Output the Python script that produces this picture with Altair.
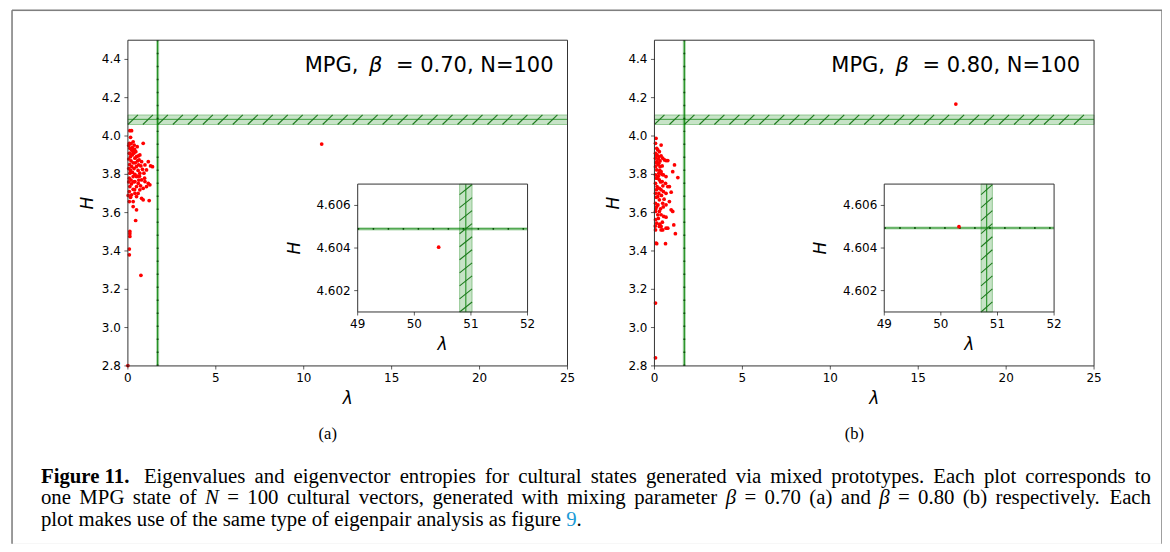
import altair as alt
import pandas as pd

# ---------------- data ----------------
a_points = [
    (0.11, 4.028), (0.21, 4.028), (0.15, 3.993), (0.08, 3.962), (0.30, 3.970), (0.36, 3.953),
    (0.11, 3.936), (0.21, 3.927), (0.08, 3.910), (0.15, 3.892), (0.25, 3.901), (0.34, 3.910),
    (0.40, 3.884), (0.49, 3.892), (0.59, 3.896), (0.68, 3.901), (0.64, 3.875), (0.78, 3.866),
    (0.87, 3.962), (0.53, 3.944), (0.45, 3.918), (0.61, 3.849), (0.74, 3.844), (0.83, 3.826),
    (0.97, 3.849), (1.16, 3.866), (1.29, 3.844), (1.40, 3.840), (1.06, 3.823), (0.91, 3.806),
    (0.68, 3.806), (0.49, 3.788), (0.30, 3.788), (0.11, 3.806), (0.08, 3.780), (0.40, 3.762),
    (0.59, 3.753), (0.78, 3.771), (0.97, 3.762), (1.16, 3.753), (1.25, 3.745), (1.06, 3.736),
    (0.87, 3.727), (0.68, 3.719), (0.49, 3.736), (0.30, 3.722), (0.11, 3.736), (0.08, 3.710),
    (0.21, 3.693), (0.40, 3.701), (0.49, 3.684), (0.78, 3.675), (0.87, 3.667), (1.21, 3.663),
    (0.08, 3.658), (0.30, 3.658), (0.30, 3.632), (0.49, 3.615), (0.44, 3.559), (0.11, 3.502),
    (0.11, 3.490), (0.11, 3.476), (0.08, 3.410), (0.08, 3.380), (0.74, 3.273), (0.00, 2.802),
    (11.02, 3.958),
    (0.05, 3.95), (0.18, 3.96), (0.25, 3.94), (0.12, 3.91), (0.28, 3.92), (0.38, 3.93),
    (0.05, 3.88), (0.18, 3.87), (0.30, 3.86), (0.42, 3.86), (0.55, 3.87), (0.10, 3.85),
    (0.22, 3.84), (0.35, 3.83), (0.48, 3.84), (0.58, 3.82), (0.15, 3.82), (0.26, 3.81),
    (0.40, 3.80), (0.55, 3.79), (0.05, 3.83), (0.18, 3.77), (0.33, 3.76), (0.62, 3.77),
    (0.72, 3.74), (0.20, 3.75), (0.05, 3.76), (0.38, 3.72), (0.58, 3.70), (0.15, 3.68),
    (0.02, 3.69), (0.66, 3.79), (0.95, 3.78),
]
b_points = [
    (0.09, 3.988), (0.38, 3.953), (0.06, 3.962), (0.13, 3.936), (0.19, 3.927), (0.28, 3.918),
    (0.06, 3.910), (0.15, 3.901), (0.25, 3.892), (0.38, 3.896), (0.47, 3.884), (0.57, 3.875),
    (0.66, 3.872), (0.76, 3.872), (1.14, 3.849), (1.04, 3.814), (0.06, 3.884), (0.13, 3.866),
    (0.25, 3.858), (0.32, 3.840), (0.44, 3.844), (0.06, 3.840), (0.13, 3.823), (0.25, 3.806),
    (0.38, 3.814), (0.51, 3.797), (0.66, 3.788), (0.06, 3.797), (0.15, 3.780), (0.28, 3.771),
    (0.44, 3.762), (0.63, 3.753), (0.76, 3.736), (0.85, 3.736), (0.95, 3.707), (1.33, 3.783),
    (0.06, 3.753), (0.15, 3.736), (0.28, 3.727), (0.38, 3.719), (0.51, 3.710), (0.66, 3.701),
    (0.06, 3.701), (0.19, 3.684), (0.28, 3.667), (0.47, 3.649), (0.66, 3.641), (0.85, 3.658),
    (0.95, 3.615), (1.04, 3.606), (0.06, 3.649), (0.13, 3.632), (0.28, 3.606), (0.06, 3.606),
    (0.19, 3.589), (0.38, 3.589), (0.53, 3.580), (0.66, 3.576), (0.06, 3.563), (0.13, 3.545),
    (0.38, 3.528), (0.47, 3.510), (0.66, 3.519), (0.06, 3.510), (0.28, 3.528), (1.10, 3.536),
    (1.19, 3.490), (0.38, 3.510), (0.76, 3.519), (0.09, 3.441), (0.13, 3.438), (0.63, 3.438),
    (0.06, 3.128), (0.06, 2.842), (17.14, 4.167),
    (0.10, 3.90), (0.22, 3.88), (0.32, 3.87), (0.08, 3.86), (0.20, 3.85), (0.30, 3.82),
    (0.42, 3.80), (0.10, 3.78), (0.22, 3.79), (0.35, 3.76), (0.48, 3.74), (0.12, 3.72),
    (0.25, 3.70), (0.40, 3.69), (0.55, 3.67), (0.10, 3.68), (0.20, 3.64), (0.35, 3.62),
    (0.50, 3.63), (0.08, 3.62), (0.22, 3.57), (0.45, 3.55), (0.30, 3.54), (0.05, 3.53),
]
inset_a_point = [(50.43, 4.60404)]
inset_b_point = [(50.32, 4.60500)]

# thresholds (lines / bands)
a_vline = 1.69
b_vline = 1.70
vline_half = 0.09
h_band = [4.06, 4.11]
h_center = 4.087
inset_a_hline = 4.6049
inset_a_vband = [50.80, 51.02]
inset_a_vcenter = 50.91
inset_b_hline = 4.60494
inset_b_vband = [50.71, 50.91]
inset_b_vcenter = 50.81

# axes
main_x_domain = [0, 25]
main_y_domain = [2.8, 4.5]
main_x_ticks = [0, 5, 10, 15, 20, 25]
main_x_labels = ["0", "5", "10", "15", "20", "25"]
main_y_ticks = [2.8, 3.0, 3.2, 3.4, 3.6, 3.8, 4.0, 4.2, 4.4]
main_y_labels = ["2.8", "3.0", "3.2", "3.4", "3.6", "3.8", "4.0", "4.2", "4.4"]
inset_x_domain = [49, 52]
inset_y_domain = [4.601, 4.607]
inset_x_ticks = [49, 50, 51, 52]
inset_x_labels = ["49", "50", "51", "52"]
inset_y_ticks = [4.602, 4.604, 4.606]
inset_y_labels = ["4.602", "4.604", "4.606"]
x_title = "λ"
y_title = "H"

titles = [("MPG,", "β", "= 0.70, N=100"), ("MPG,", "β", "= 0.80, N=100")]
sub_labels = ["(a)", "(b)"]
caption_bold = "Figure 11."
# words of the caption; "*" marks italic words, "#" marks the blue reference
caption_l1 = ("Eigenvalues and eigenvector entropies for cultural states generated via "
              "mixed prototypes. Each plot corresponds to").split()
caption_l2 = ("one MPG state of *N = 100 cultural vectors, generated with mixing parameter "
              "*β = 0.70 (a) and *β = 0.80 (b) respectively. Each").split()
caption_l3 = "plot makes use of the same type of eigenpair analysis as figure #9 .".split()

# ---------------- layout (pixels inside the view) ----------------
W, H = 1151, 534
GREEN = "#008000"
HATCH = "#1e7a1e"
FRAME = "#333333"
FONT = "DejaVu Sans"
SERIF = "Liberation Serif"

# Times-compatible advance widths (per 1000 em) for caption typesetting
_w = dict(zip("abcdefghijklmnopqrstuvwxyz",
              [444, 500, 444, 500, 444, 333, 500, 500, 278, 278, 500, 278, 778, 500, 500,
               500, 500, 333, 389, 278, 500, 500, 722, 500, 500, 444]))
_w.update(dict(zip("ABCDEFGHIJKLMNOPQRSTUVWXYZ",
                   [722, 667, 667, 722, 611, 556, 722, 722, 333, 389, 722, 611, 889, 722,
                    722, 556, 722, 667, 556, 611, 722, 722, 944, 722, 722, 611])))
_w.update({c: 500 for c in "0123456789"})
_w.update({".": 250, ",": 250, "(": 333, ")": 333, "=": 564, " ": 250, "β": 500})


def wlen(s, size, italic=False):
    tot = 0
    for c in s:
        v = _w.get(c, 500)
        if italic and c == "N":
            v = 667
        tot += v
    return tot * size / 1000.0


def typeset(words, x0, x1, y, size, justify):
    items = []
    clean = []
    for w in words:
        style = "normal"
        color = "black"
        if w.startswith("*"):
            style, w = "italic", w[1:]
        if w.startswith("#"):
            color, w = "blue", w[1:]
        clean.append((w, style, color))
    widths = [wlen(w, size, s == "italic") for w, s, c in clean]
    gap = 0.25 * size
    if justify:
        gap = (x1 - x0 - sum(widths)) / (len(clean) - 1)
    x = x0
    for (w, s, c), wd in zip(clean, widths):
        items.append({"px": x, "py": y, "w": w, "style": s, "color": c})
        x += wd + (gap if w != "9" else 0)
    return items


def make_panel(points, vline, xr, yr, xdom, ydom, xticks, xlabels, yticks, ylabels,
               hband, hcenter, vband, vcenter, ytitle_off):
    xs = alt.Scale(domain=xdom, range=xr, nice=False, zero=False)
    ys = alt.Scale(domain=ydom, range=yr, nice=False, zero=False)

    def X(f):
        return alt.X(f, type="quantitative", scale=xs, axis=None)

    def Y(f):
        return alt.Y(f, type="quantitative", scale=ys, axis=None)

    frame_df = pd.DataFrame({"x0": [xdom[0]], "x1": [xdom[1]], "y0": [ydom[0]], "y1": [ydom[1]]})
    layers = [alt.Chart(frame_df).mark_rect(fill="white").encode(
        x=X("x0"), x2="x1", y=Y("y0"), y2="y1")]

    if hband is not None:
        hb = pd.DataFrame({"x0": [xdom[0]], "x1": [xdom[1]], "y0": [hband[0]], "y1": [hband[1]]})
        layers.append(alt.Chart(hb).mark_rect(fill=GREEN, fillOpacity=0.22, stroke=GREEN,
                                              strokeOpacity=0.35, strokeWidth=1).encode(
            x=X("x0"), x2="x1", y=Y("y0"), y2="y1"))
        hc = pd.DataFrame({"x0": [xdom[0]], "x1": [xdom[1]], "y0": [hcenter]})
        layers.append(alt.Chart(hc).mark_rule(color=GREEN, strokeWidth=1, opacity=0.7).encode(
            x=X("x0"), x2="x1", y=Y("y0")))
        seq = alt.Chart(alt.sequence(xdom[0], xdom[1], 0.852, as_="h")).transform_calculate(
            h2="datum.h + 0.57", ya=str(hband[0]), yb=str(hband[1])
        ).transform_filter("datum.h2 <= %s" % xdom[1])
        layers.append(seq.mark_rule(color=HATCH, strokeWidth=1.1).encode(
            x=X("h:Q"), x2="h2:Q", y=Y("ya:Q"), y2="yb:Q"))
    else:
        hl = pd.DataFrame({"x0": [xdom[0]], "x1": [xdom[1]], "y0": [hcenter]})
        layers.append(alt.Chart(hl).mark_rule(color=GREEN, strokeWidth=3.2, opacity=0.3).encode(
            x=X("x0"), x2="x1", y=Y("y0")))
        layers.append(alt.Chart(hl).mark_rule(color=GREEN, strokeWidth=1, opacity=0.8).encode(
            x=X("x0"), x2="x1", y=Y("y0")))
        layers.append(alt.Chart(hl).mark_rule(color="#0a4f0a", strokeWidth=1.8,
                                              strokeDash=[1.5, 13.5]).encode(
            x=X("x0"), x2="x1", y=Y("y0")))

    if vline is not None:
        vb = pd.DataFrame({"x0": [vline - vline_half], "x1": [vline + vline_half],
                           "xc": [vline], "y0": [ydom[0]], "y1": [ydom[1]]})
        layers.append(alt.Chart(vb).mark_rect(fill=GREEN, fillOpacity=0.3).encode(
            x=X("x0"), x2="x1", y=Y("y0"), y2="y1"))
        layers.append(alt.Chart(vb).mark_rule(color=GREEN, strokeWidth=1.2, opacity=0.8).encode(
            x=X("xc"), y=Y("y0"), y2="y1"))
        layers.append(alt.Chart(vb).mark_rule(color="#0a4f0a", strokeWidth=1.8,
                                              strokeDash=[1.5, 11.5]).encode(
            x=X("xc"), y=Y("y0"), y2="y1"))
    else:
        vb = pd.DataFrame({"x0": [vband[0]], "x1": [vband[1]], "xc": [vcenter],
                           "y0": [ydom[0]], "y1": [ydom[1]]})
        layers.append(alt.Chart(vb).mark_rect(fill=GREEN, fillOpacity=0.22, stroke=GREEN,
                                              strokeOpacity=0.35, strokeWidth=1).encode(
            x=X("x0"), x2="x1", y=Y("y0"), y2="y1"))
        layers.append(alt.Chart(vb).mark_rule(color=GREEN, strokeWidth=1, opacity=0.9).encode(
            x=X("xc"), y=Y("y0"), y2="y1"))
        seq = alt.Chart(alt.sequence(ydom[0], ydom[1], 0.000612, as_="v")).transform_calculate(
            v2="datum.v + 0.00047", xa=str(vband[0]), xb=str(vband[1])
        ).transform_filter("datum.v2 <= %s" % ydom[1])
        layers.append(seq.mark_rule(color=HATCH, strokeWidth=1.1).encode(
            x=X("xa:Q"), x2="xb:Q", y=Y("v:Q"), y2="v2:Q"))

    pts = pd.DataFrame(points, columns=["lam", "H"])
    layers.append(alt.Chart(pts).mark_circle(size=14, color="red", opacity=1).encode(
        x=X("lam"), y=Y("H")))

    layers.append(alt.Chart(frame_df).mark_rect(fillOpacity=0, stroke=FRAME, strokeWidth=1).encode(
        x=X("x0"), x2="x1", y=Y("y0"), y2="y1"))

    xt = pd.DataFrame({"v": xticks, "lab": xlabels, "base": [ydom[0]] * len(xticks)})
    yt = pd.DataFrame({"v": yticks, "lab": ylabels, "base": [xdom[0]] * len(yticks)})
    layers.append(alt.Chart(xt).mark_tick(orient="vertical", size=3.5, thickness=0.9,
                                          color="black", yOffset=1.75).encode(
        x=X("v"), y=Y("base")))
    layers.append(alt.Chart(yt).mark_tick(orient="horizontal", size=3.5, thickness=0.9,
                                          color="black", xOffset=-1.75).encode(
        x=X("base"), y=Y("v")))
    layers.append(alt.Chart(xt).mark_text(font=FONT, fontSize=12, color="black", align="center",
                                          baseline="top", yOffset=7).encode(
        x=X("v"), y=Y("base"), text="lab:N"))
    layers.append(alt.Chart(yt).mark_text(font=FONT, fontSize=12, color="black", align="right",
                                          baseline="middle", xOffset=-7).encode(
        x=X("base"), y=Y("v"), text="lab:N"))
    tt = pd.DataFrame({"xm": [(xdom[0] + xdom[1]) / 2], "ym": [(ydom[0] + ydom[1]) / 2],
                       "x0": [xdom[0]], "y0": [ydom[0]], "tx": [x_title], "ty": [y_title]})
    layers.append(alt.Chart(tt).mark_text(font=FONT, fontSize=17, fontStyle="italic",
                                          color="black", align="center", baseline="middle",
                                          yOffset=33).encode(
        x=X("xm"), y=Y("y0"), text="tx:N"))
    layers.append(alt.Chart(tt).mark_text(font=FONT, fontSize=17, fontStyle="italic",
                                          color="black", align="center", baseline="middle",
                                          angle=270, xOffset=-ytitle_off).encode(
        x=X("x0"), y=Y("ym"), text="ty:N"))
    return alt.layer(*layers)


def txt(s, x, y, size, font=FONT, align="left", baseline="alphabetic", style="normal",
        weight="normal", color="black"):
    return alt.Chart(pd.DataFrame({"t": [s]})).mark_text(
        align=align, baseline=baseline, font=font, fontSize=size, fontStyle=style,
        fontWeight=weight, color=color).encode(x=alt.value(x), y=alt.value(y), text="t:N")


panels = []
for i, (pts, vl, ipt, ihl, ivb, ivc) in enumerate([
        (a_points, a_vline, inset_a_point, inset_a_hline, inset_a_vband, inset_a_vcenter),
        (b_points, b_vline, inset_b_point, inset_b_hline, inset_b_vband, inset_b_vcenter)]):
    dx = 527 * i
    panels.append(make_panel(pts, vl, [116 + dx, 556 + dx], [356, 30], main_x_domain,
                             main_y_domain, main_x_ticks, main_x_labels, main_y_ticks,
                             main_y_labels, h_band, h_center, None, None, 40))
    panels.append(make_panel(ipt, None, [346 + dx, 516 + dx], [302, 174], inset_x_domain,
                             inset_y_domain, inset_x_ticks, inset_x_labels, inset_y_ticks,
                             inset_y_labels, None, ihl, ivb, ivc, 63))

decor = []
for i, (p1, p2, p3) in enumerate(titles):
    dx = 527 * i
    decor.append(txt(p1, 293 + dx, 62, 21))
    decor.append(txt(p2, 364 + dx, 62, 21, align="center", style="italic"))
    decor.append(txt(p3, 542 + dx, 62, 21, align="right"))
    decor.append(txt(sub_labels[i], 316 + dx, 424, 16.5, font=SERIF,
                     align="center", baseline="middle"))

CS = 20.8
words = (typeset(caption_l1, 132, 1140, 473, CS, True)
         + typeset(caption_l2, 29, 1140, 494.5, CS, True)
         + typeset(caption_l3, 29, 1140, 516, CS, False))
wdf = pd.DataFrame(words)
for style in ["normal", "italic"]:
    for color, cval in [("black", "black"), ("blue", "#1a9ad6")]:
        sub = wdf[(wdf["style"] == style) & (wdf["color"] == color)]
        if len(sub) == 0:
            continue
        decor.append(alt.Chart(sub).mark_text(
            align="left", baseline="alphabetic", font=SERIF, fontSize=CS, fontStyle=style,
            color=cval).encode(x=alt.X("px:Q", scale=None), y=alt.Y("py:Q", scale=None),
                               text="w:N"))
decor.append(txt(caption_bold, 29, 473, CS, font=SERIF, weight="bold"))

border_col = "#7f7f7f"
one = pd.DataFrame({"a": [0]})
decor += [
    alt.Chart(one).mark_rule(color=border_col, strokeWidth=1.5).encode(
        x=alt.value(0), y=alt.value(0), y2=alt.value(H)),
    alt.Chart(one).mark_rule(color=border_col, strokeWidth=1.5).encode(
        x=alt.value(0), x2=alt.value(W), y=alt.value(0)),
    alt.Chart(one).mark_rule(color=border_col, strokeWidth=1.5).encode(
        x=alt.value(W), y=alt.value(0), y2=alt.value(H)),
]

chart = alt.layer(*panels, *decor).resolve_scale(x="independent", y="independent").properties(
    width=W, height=H,
    autosize=alt.AutoSizeParams(type="none"),
    padding={"left": 4, "top": 2, "right": 0, "bottom": 0},
).configure_view(stroke=None).configure(background="white")

chart.save("out.html", embed_options={"renderer": "svg", "actions": False})
